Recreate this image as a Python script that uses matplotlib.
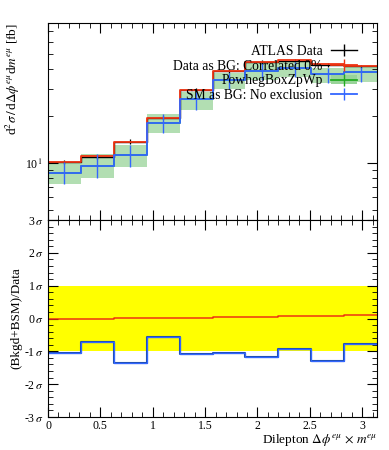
import numpy as np
import matplotlib.pyplot as plt
from matplotlib.lines import Line2D
from matplotlib.patches import Patch
from matplotlib.ticker import FixedLocator, MultipleLocator, NullFormatter

plt.rcParams['font.family'] = ['Liberation Serif', 'DejaVu Serif']
plt.rcParams['mathtext.fontset'] = 'stix'

# bin edges: 10 bins over [0, pi]
edges = np.linspace(0, np.pi, 11)
centers = 0.5 * (edges[:-1] + edges[1:])

data = [10.1, 10.9, 13.7, 19.5, 29.4, 38.9, 44.4, 45.3, 42.5, 41.7]
data_err = [0.3, 0.3, 0.5, 0.5, 0.7, 0.9, 1.0, 1.0, 1.0, 1.0]
data_bg = [10.1, 11.0, 13.7, 19.5, 29.4, 38.9, 44.6, 45.5, 42.8, 42.0]
powheg = [8.6, 9.6, 11.2, 17.9, 25.6, 34.0, 38.9, 40.8, 37.2, 38.1]
band_hi = [10.15, 11.4, 13.0, 20.6, 28.5, 37.7, 43.7, 44.3, 40.6, 41.2]
band_lo = [7.33, 8.0, 9.4, 15.6, 21.9, 29.8, 34.1, 35.6, 32.6, 33.0]

ratio_red = [0.0, 0.0, 0.02, 0.02, 0.02, 0.04, 0.06, 0.08, 0.08, 0.1]
ratio_blue = [-1.04, -0.71, -1.36, -0.57, -1.07, -1.04, -1.17, -0.94, -1.29, -0.79]

sig_ticks = [-3, -2, -1, 0, 1, 2, 3]
sig_labels = ['-3$\\,\\sigma$', '-2$\\,\\sigma$', '-1$\\,\\sigma$', '0$\\,\\sigma$',
              '1$\\,\\sigma$', '2$\\,\\sigma$', '3$\\,\\sigma$']

red = '#EE3311'
blue = '#3366FF'
green = '#22aa22'
bandc = '#99d499'


def stepvals(v):
    return np.append(v, v[-1])


fig = plt.figure(figsize=(3.89, 4.5), dpi=100)
ax = fig.add_axes([0.1234, 0.511, 0.8458, 0.438])
rx = fig.add_axes([0.1234, 0.0733, 0.8458, 0.4377], sharex=ax)

# --- main panel
ax.fill_between(edges, stepvals(band_lo), stepvals(band_hi), step='post',
                color=bandc, alpha=0.75, lw=0)
ax.step(edges, stepvals(powheg), where='post', color=green, lw=1.2)
ax.step(edges, stepvals(data), where='post', color='black', lw=1.0)
ax.errorbar(centers, data, yerr=data_err, fmt='none', ecolor='black', elinewidth=0.9)
ax.step(edges, stepvals(data_bg), where='post', color=red, lw=1.3)
ax.step(edges, stepvals(powheg), where='post', color=blue, lw=1.3)
ax.errorbar(centers, powheg,
            yerr=[np.array(powheg) - np.array(band_lo), np.array(band_hi) - np.array(powheg)],
            fmt='none', ecolor=blue, elinewidth=1.0)

ax.set_yscale('log')
ax.set_ylim(4.3, 79)
ax.set_xlim(0, np.pi)
ax.yaxis.set_major_locator(FixedLocator([10]))
ax.set_yticklabels(['10$^{\\,1}$'])
ax.yaxis.set_minor_formatter(NullFormatter())
ax.tick_params(labelbottom=False)
ax.set_ylabel('d$^2\\sigma\\,/\\,$d$\\Delta\\phi^{e\\mu}$d$m^{e\\mu}$ [fb]', fontsize=9.5,
              loc='top')

handles = [
    Line2D([], [], color='black', lw=1.0, marker='|', ms=9, mew=1.0),
    Line2D([], [], color=red, lw=1.3, marker='|', ms=9, mew=1.0),
    (Patch(color=bandc, lw=0), Line2D([], [], color=green, lw=1.3, marker='|', ms=9, mew=1.0)),
    Line2D([], [], color=blue, lw=1.3, marker='|', ms=9, mew=1.0),
]
labels = ['ATLAS Data', 'Data as BG: Correlated 0%', 'PowhegBoxZpWp', 'SM as BG: No exclusion']
ax.legend(handles, labels, loc='upper right', markerfirst=False, frameon=False,
          fontsize=9.8, handlelength=1.9, handletextpad=0.6, labelspacing=0.12,
          borderaxespad=0.0, bbox_to_anchor=(0.955, 0.915))

# --- ratio panel
rx.axhspan(-1, 1, color='#ffff00', lw=0)
rx.step(edges, stepvals(ratio_red), where='post', color=red, lw=1.1)
rx.step(edges, stepvals(ratio_blue), where='post', color='#1f4fb0', lw=1.5)
rx.step(edges, stepvals(ratio_blue), where='post', color=blue, lw=0.9)
rx.set_ylim(-3, 3)
rx.yaxis.set_major_locator(FixedLocator(sig_ticks))
rx.set_yticklabels(sig_labels)
rx.yaxis.set_minor_locator(MultipleLocator(0.2))
rx.set_ylabel('(Bkgd+BSM)/Data', fontsize=9.5)
rx.set_xlabel('Dilepton $\\Delta\\phi^{e\\mu}\\,\\times\\,m^{e\\mu}$', fontsize=9.5, loc='right',
              labelpad=0)
rx.xaxis.set_major_locator(MultipleLocator(0.5))
rx.xaxis.set_minor_locator(MultipleLocator(0.1))
rx.set_xticks([0, 0.5, 1, 1.5, 2, 2.5, 3])
rx.set_xticklabels(['0', '0.5', '1', '1.5', '2', '2.5', '3'])

for a in (ax, rx):
    a.tick_params(which='both', direction='in', top=True, right=True, labelsize=8.5)
    a.tick_params(which='major', length=7)
    a.tick_params(which='minor', length=3.5)
    for s in a.spines.values():
        s.set_linewidth(0.8)
rx.tick_params(axis='x', pad=2.5)

ax.yaxis.set_label_coords(-0.079, 1.0)
rx.yaxis.set_label_coords(-0.079, 0.5)

fig.savefig('out.png', dpi=100)
